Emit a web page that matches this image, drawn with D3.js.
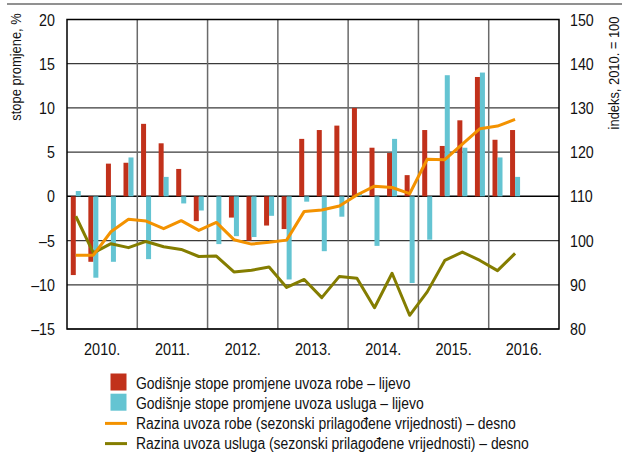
<!DOCTYPE html>
<html>
<head>
<meta charset="utf-8">
<script src="https://cdn.jsdelivr.net/npm/d3@7"></script>
<style>
  body { margin: 0; background: #fff; }
  svg { font-family: "Liberation Sans Narrow", "Liberation Sans", Arial, sans-serif; }
</style>
</head>
<body>
<div id="chart"></div>
<script>
// DATA
let YEARS = ["2010.", "2011.", "2012.", "2013.", "2014.", "2015.", "2016."]
let QUARTERS = ["2010Q1", "2010Q2", "2010Q3", "2010Q4", "2011Q1", "2011Q2", "2011Q3", "2011Q4",
    "2012Q1", "2012Q2", "2012Q3", "2012Q4", "2013Q1", "2013Q2", "2013Q3", "2013Q4",
    "2014Q1", "2014Q2", "2014Q3", "2014Q4", "2015Q1", "2015Q2", "2015Q3", "2015Q4",
    "2016Q1", "2016Q2"]
// godisnje stope promjene (lijevo)
let GOODS_RATE = [-8.9, -7.4, 3.7, 3.8, 8.2, 6.0, 3.1, -2.8, 0.0, -2.4, -5.0, -3.3,
    -3.7, 6.5, 7.5, 8.0, 10.0, 5.5, 4.9, 2.4, 7.5, 5.7, 8.6, 13.5, 6.4, 7.5]
let SERV_RATE = [0.6, -9.2, -7.4, 4.4, -7.1, 2.2, -0.8, -1.6, -5.4, -4.5, -4.6, -2.2,
    -9.4, -0.6, -6.2, -2.3, 0.4, -5.6, 6.5, -9.8, -4.9, 13.7, 5.5, 14.0, 4.4, 2.2]
// razina uvoza, indeks 2010. = 100 (desno)
let GOODS_LEVEL = [96.7, 96.7, 102.0, 104.8, 104.4, 102.7, 104.5, 102.3, 104.1, 100.2, 99.2, 99.6,
    100.1, 106.6, 106.9, 107.8, 110.3, 112.3, 112.0, 110.6, 118.4, 118.3, 121.8, 125.3, 125.9, 127.4]
let SERV_LEVEL = [105.5, 97.2, 99.3, 98.4, 99.8, 98.6, 98.0, 96.4, 96.5, 92.9, 93.3, 94.0,
    89.4, 91.2, 87.1, 91.9, 91.5, 84.8, 92.6, 83.1, 88.4, 95.5, 97.4, 95.5, 93.2, 97.1]
let LEFT_TICKS = [-15, -10, -5, 0, 5, 10, 15, 20]
let RIGHT_TICKS = [80, 90, 100, 110, 120, 130, 140, 150]

let COLORS = { goods: "#c1311b", serv: "#64c4d2", goodsLine: "#f39200", servLine: "#847d00" }

let W = 622, H = 457
let margin = { left: 67, top: 19.5, right: 63, bottom: 128 }
let width = W - margin.left - margin.right,
    height = H - margin.top - margin.bottom

// condensed look: squeeze text horizontally
function addText(parent, x, y, str, size, anchor, rot, sx) {
    return parent.append("text")
        .attr("transform", "translate(" + x + "," + y + ")" + (rot ? " rotate(" + rot + ")" : "") + " scale(" + sx + ",1)")
        .attr("text-anchor", anchor)
        .attr("dy", "0.36em")
        .style("font-size", size + "px")
        .style("fill", "#111")
        .text(str)
}

let svg = d3.select("#chart").append("svg")
    .attr("width", W)
    .attr("height", H)

// top rule
svg.append("line")
    .attr("x1", 7).attr("x2", W).attr("y1", 4).attr("y2", 4)
    .attr("stroke", "#6d6d6d").attr("stroke-width", 1.5)

let g = svg.append("g").attr("transform", "translate(" + margin.left + "," + margin.top + ")")

// scales
let allQuarters = []
YEARS.forEach(function (y) { for (let q = 1; q <= 4; q++) allQuarters.push(y.slice(0, 4) + "Q" + q) })
let x = d3.scaleBand().domain(allQuarters).range([0, width]).padding(0)
let xYear = d3.scaleBand().domain(YEARS).range([0, width]).padding(0)
let yL = d3.scaleLinear().domain([-15, 20]).range([height, 0])
let yR = d3.scaleLinear().domain([80, 150]).range([height, 0])

// grid
g.selectAll("hgrid")
    .data(LEFT_TICKS)
    .enter()
    .append("line")
    .attr("x1", 0).attr("x2", width)
    .attr("y1", function (d) { return yL(d) }).attr("y2", function (d) { return yL(d) })
    .attr("stroke", function (d) { return d == 0 ? "#000" : "#3a3a3a" })
    .attr("stroke-width", function (d) { return d == 0 ? 1.5 : 1.2 })

g.selectAll("vgrid")
    .data(YEARS.slice(1))
    .enter()
    .append("line")
    .attr("x1", function (d) { return xYear(d) }).attr("x2", function (d) { return xYear(d) })
    .attr("y1", 0).attr("y2", height)
    .attr("stroke", "#6a6a6a").attr("stroke-width", 1.5)

// bars
let bw = 5
let rows = QUARTERS.map(function (q, i) {
    return { q: q, goods: GOODS_RATE[i], serv: SERV_RATE[i], gl: GOODS_LEVEL[i], sl: SERV_LEVEL[i] }
})

g.selectAll("goodsBars")
    .data(rows)
    .enter()
    .append("rect")
    .attr("x", function (d) { return x(d.q) + x.bandwidth() / 2 - bw })
    .attr("width", bw)
    .attr("y", function (d) { return yL(Math.max(0, d.goods)) })
    .attr("height", function (d) { return Math.abs(yL(d.goods) - yL(0)) })
    .style("fill", COLORS.goods)

g.selectAll("servBars")
    .data(rows)
    .enter()
    .append("rect")
    .attr("x", function (d) { return x(d.q) + x.bandwidth() / 2 })
    .attr("width", bw)
    .attr("y", function (d) { return yL(Math.max(0, d.serv)) })
    .attr("height", function (d) { return Math.abs(yL(d.serv) - yL(0)) })
    .style("fill", COLORS.serv)

// lines
let lineGoods = d3.line()
    .x(function (d) { return x(d.q) + x.bandwidth() / 2 })
    .y(function (d) { return yR(d.gl) })
let lineServ = d3.line()
    .x(function (d) { return x(d.q) + x.bandwidth() / 2 })
    .y(function (d) { return yR(d.sl) })

g.append("path")
    .attr("d", lineServ(rows))
    .style("fill", "none")
    .attr("stroke", COLORS.servLine)
    .style("stroke-width", 3)
    .style("stroke-linejoin", "round")

g.append("path")
    .attr("d", lineGoods(rows))
    .style("fill", "none")
    .attr("stroke", COLORS.goodsLine)
    .style("stroke-width", 3)
    .style("stroke-linejoin", "round")

// frame
g.append("rect")
    .attr("width", width).attr("height", height)
    .style("fill", "none").attr("stroke", "#000").attr("stroke-width", 1.5)

// axes labels
LEFT_TICKS.forEach(function (d) {
    addText(g, -12, yL(d), d < 0 ? "\u2013" + Math.abs(d) : d, 17, "end", 0, 0.84)
})
RIGHT_TICKS.forEach(function (d) {
    addText(g, width + 11, yR(d), d, 17, "start", 0, 0.84)
})
YEARS.forEach(function (d) {
    addText(g, xYear(d) + xYear.bandwidth() / 2, height + 20, d, 17, "middle", 0, 0.85)
})

addText(svg, 16, 67, "stope promjene, %", 15, "middle", -90, 0.86)
addText(svg, 614, 73, "indeks, 2010. = 100", 15, "middle", -90, 0.86)

// legend
let LEGEND = [
    { name: "Godišnje stope promjene uvoza robe – lijevo", type: "box", color: COLORS.goods },
    { name: "Godišnje stope promjene uvoza usluga – lijevo", type: "box", color: COLORS.serv },
    { name: "Razina uvoza robe (sezonski prilagođene vrijednosti) – desno", type: "line", color: COLORS.goodsLine },
    { name: "Razina uvoza usluga (sezonski prilagođene vrijednosti) – desno", type: "line", color: COLORS.servLine }
]
let leg = svg.selectAll("legend")
    .data(LEGEND)
    .enter()
    .append("g")
    .attr("transform", function (d, i) { return "translate(0," + (383 + i * 20.2) + ")" })

leg.filter(function (d) { return d.type == "box" })
    .append("rect")
    .attr("x", 110.5).attr("y", -9.5).attr("width", 16).attr("height", 17)
    .style("fill", function (d) { return d.color })
leg.filter(function (d) { return d.type == "line" })
    .append("line")
    .attr("x1", 105).attr("x2", 127).attr("y1", 0).attr("y2", 0)
    .attr("stroke", function (d) { return d.color }).attr("stroke-width", 3)
leg.each(function (d) {
    addText(d3.select(this), 136, 0, d.name, 16, "start", 0, 0.87)
})
</script>
</body>
</html>
